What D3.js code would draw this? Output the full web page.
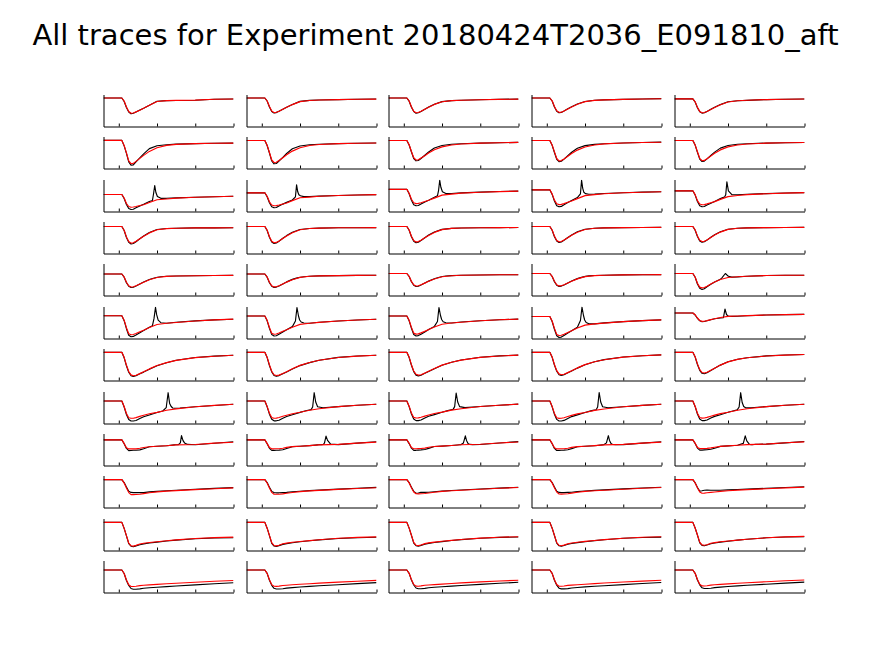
<!DOCTYPE html>
<html><head><meta charset="utf-8">
<script src="https://cdn.jsdelivr.net/npm/d3@7"></script>
<style>body{margin:0;background:#fff}svg{display:block}</style>
</head><body><svg id="chart" width="875" height="656"></svg>
<script>
const title = "All traces for Experiment 20180424T2036_E091810_aft";
const xDomain = [-40, 300];
const xTicks = [0, 100, 200, 300];
const ySpan = 32;

// time grids (ms)
const T_FIT  = [-40, 8, 14, 20, 26, 32, 38, 45, 55, 65, 80, 100, 125, 150, 200, 250, 300];
const T_ROW3 = [-40, 8, 14, 20, 26, 32, 38, 45, 55, 65, 80, 88, 91, 94, 97, 101, 110, 125, 150, 200, 250, 300];
const T_ROW5 = [-40, 8, 14, 20, 26, 32, 38, 45, 55, 65, 80, 84, 93, 101, 110, 125, 150, 200, 250, 300];
const T_ROW6 = [-40, 8, 14, 20, 26, 32, 38, 45, 55, 65, 80, 88, 92, 96, 99, 103, 110, 125, 150, 200, 250, 300];
const T_ROW8 = [-40, 8, 14, 20, 26, 32, 38, 45, 55, 65, 80, 100, 115, 124, 129, 133, 137, 141, 146, 160, 200, 250, 300];
const T_ROW9 = [-40, 8, 14, 20, 26, 32, 38, 45, 55, 65, 80, 100, 125, 140, 145, 149, 156, 161, 164, 168, 172, 180, 200, 250, 300];
const traceTimes = [T_FIT, T_FIT, T_ROW3, T_FIT, T_ROW5, T_ROW6, T_FIT, T_ROW8, T_ROW9, T_FIT, T_FIT, T_FIT];

// upper y-limit of each panel (baseline = 0)
const yUpper = [
  [3.5, 3.5, 3.5, 3.5, 4.3],
  [3.9, 4, 4, 4, 4],
  [15, 13.3, 9.8, 10.3, 11.3],
  [5, 5, 5, 5, 5],
  [10.5, 10.5, 10, 10, 10],
  [9.2, 9.5, 9.5, 10, 6.5],
  [3.8, 3.8, 3.8, 3.8, 3.8],
  [9.5, 9.5, 9.5, 9.5, 9.5],
  [6.4, 6.4, 6.4, 6.4, 6.4],
  [4.1, 4.1, 4.1, 4.1, 4.1],
  [3.9, 3.9, 3.9, 3.9, 3.9],
  [9.5, 9.5, 9.5, 9.5, 9.5]
];

// measured traces (black) and fits (red), one array per row, five columns each
const trace_r1 = [
  [0,0,-3.5,-9.5,-14,-15.8,-15.3,-13.9,-12,-10.2,-7.3,-3.2,-2.6,-2.5,-2.3,-1.2,-1],
  [0,0,-3,-9,-13.5,-15,-14.6,-13.2,-11.2,-9.2,-6.5,-3.4,-2.4,-2,-1.6,-1.2,-1],
  [0,0,-3.2,-9.2,-13.6,-15.2,-14.8,-13.4,-11.2,-9,-6.2,-3.6,-2.6,-2.2,-1.7,-1.3,-1.1],
  [0,0,-3,-9,-13.3,-14.8,-14.4,-13,-10.8,-8.8,-6,-3.5,-2.3,-1.9,-1.4,-1,-0.6],
  [0,0,-3.2,-9,-13,-14.3,-14,-12.6,-10.5,-8.5,-5.8,-3,-2,-1.6,-0.8,-0.4,-0.2]
];
const fit_r1 = [
  [0,0,-3,-9,-13.5,-15.3,-15,-13.9,-12.2,-10.3,-7.2,-3.5,-2.6,-2.4,-2.1,-1.3,-1],
  [0,0,-3,-8.5,-13,-14.6,-14.3,-13.2,-11.2,-9.3,-6.6,-3.6,-2.5,-2,-1.6,-1.3,-1.1],
  [0,0,-3,-8.7,-13.2,-14.8,-14.5,-13.3,-11.3,-9.2,-6.4,-3.7,-2.6,-2.2,-1.7,-1.4,-1.1],
  [0,0,-2.8,-8.5,-12.8,-14.4,-14.2,-13,-11,-9,-6.2,-3.6,-2.4,-1.9,-1.4,-1,-0.7],
  [0,0,-3,-8.6,-12.6,-14,-13.8,-12.6,-10.6,-8.6,-6,-3.2,-2,-1.5,-0.8,-0.4,-0.2]
];
const trace_r2 = [
  [0,0,-5.5,-13,-21.5,-24.8,-24.5,-21.5,-17.5,-13.5,-8.2,-5.3,-4.3,-3.7,-3.2,-2.9,-2.7],
  [0,0,-5,-12.5,-20.5,-23.3,-23,-20.5,-16.8,-13,-8.3,-5.5,-4.3,-3.7,-3.1,-2.8,-2.5],
  [0,0,-4.5,-11.5,-18,-20.3,-20,-18,-14.8,-11.5,-7.5,-5,-3.8,-3.2,-2.6,-2.2,-1.9],
  [0,0,-4.8,-12,-18.8,-21.2,-20.8,-18.6,-15.2,-11.8,-7.8,-5.1,-3.9,-3.2,-2.5,-2,-1.6],
  [0,0,-4.6,-11.8,-18.6,-21,-20.6,-18.4,-15,-11.6,-7.6,-5,-3.8,-3.2,-2.6,-2.3,-2]
];
const fit_r2 = [
  [0,0,-5,-12.5,-20.5,-23.3,-23,-21,-18,-15,-11,-7.3,-5,-4,-3.2,-2.9,-2.7],
  [0,0,-4.8,-12,-19.5,-22,-21.8,-20,-17.2,-14.3,-10.6,-7.2,-5,-4,-3.1,-2.8,-2.5],
  [0,0,-4.2,-11,-17.2,-19.5,-19.2,-17.6,-15.2,-12.6,-9.3,-6.4,-4.5,-3.5,-2.6,-2.2,-1.9],
  [0,0,-4.5,-11.4,-18,-20.4,-20.1,-18.4,-15.8,-13,-9.6,-6.5,-4.5,-3.4,-2.5,-2,-1.7],
  [0,0,-4.4,-11.2,-17.8,-20.2,-19.9,-18.2,-15.6,-12.8,-9.4,-6.4,-4.5,-3.5,-2.6,-2.3,-2]
];
const trace_r3 = [
  [0,0,-4,-10,-14,-15,-14.8,-13.3,-11.5,-9.8,-7,-6,1,9,2,-2,-3.8,-3.8,-3.4,-2.8,-2.2,-1.8],
  [0,0,-4,-10,-14,-15,-14.7,-13.2,-11.3,-9.6,-7.2,-4,8,1,-2,-3,-3.8,-3.7,-3.3,-2.7,-2.2,-1.8],
  [0,0,-4.5,-11,-15.5,-16.5,-16.2,-14.8,-12.8,-11,-8,-6.5,-1,9,2,-2.5,-4.2,-4.2,-3.6,-2.8,-2.2,-1.8],
  [0,0,-4.6,-11.3,-16,-17,-16.6,-15,-12.8,-10.8,-7.8,-4,9.5,1.5,-2.5,-3.8,-4.5,-4.3,-3.7,-2.9,-2.3,-1.9],
  [0,0,-4.3,-10.7,-15,-16,-15.7,-14.3,-12.4,-10.6,-7.8,-6.6,-6.2,-4,9,0,-3.8,-4,-3.5,-2.8,-2.2,-1.8]
];
const fit_r3 = [
  [0,0,-3.5,-9,-12,-12.7,-12.5,-12,-11,-10.2,-8,-5.2,-4.5,-3.6,-2.8,-2.2,-1.7],
  [0,0,-3.5,-9,-12.2,-13,-12.8,-12.2,-11.2,-10.2,-7.8,-5,-4.3,-3.5,-2.7,-2.2,-1.8],
  [0,0,-4,-10,-13.5,-14.3,-14.1,-13.4,-12.2,-11,-8.8,-5.8,-4.8,-3.8,-2.9,-2.3,-1.8],
  [0,0,-4.1,-10.3,-14,-14.8,-14.6,-13.8,-12.5,-11.2,-8.8,-5.8,-4.8,-3.9,-3,-2.4,-1.9],
  [0,0,-3.8,-9.8,-13.2,-14,-13.8,-13.1,-11.9,-10.8,-8.6,-5.8,-4.7,-3.8,-2.9,-2.3,-1.8]
];
const trace_r4 = [
  [0,0,-4,-11,-15.8,-17.5,-17,-15.2,-12.2,-9.5,-6,-3,-2,-1.7,-1.4,-1.3,-1.2],
  [0,0,-4,-10.8,-15.5,-17,-16.5,-14.7,-11.8,-9.1,-5.8,-3,-2,-1.6,-1.3,-1.2,-1.1],
  [0,0,-3.8,-10.2,-14.7,-16.2,-15.7,-14,-11.2,-8.6,-5.5,-2.9,-1.9,-1.5,-1.2,-1.1,-1],
  [0,0,-3.8,-10.2,-14.6,-16,-15.5,-13.8,-11,-8.4,-5.3,-2.8,-1.8,-1.4,-1.1,-1,-0.9],
  [0,0,-3.8,-10,-14.4,-15.8,-15.3,-13.6,-10.8,-8.2,-5.2,-2.7,-1.7,-1.4,-1.1,-1,-0.9]
];
const fit_r4 = [
  [0,0,-3.7,-10.4,-15,-16.6,-16.3,-14.8,-12.2,-9.7,-6.4,-3.3,-2.1,-1.7,-1.4,-1.3,-1.2],
  [0,0,-3.6,-10.2,-14.7,-16.2,-15.9,-14.4,-11.9,-9.4,-6.2,-3.2,-2,-1.6,-1.3,-1.2,-1.1],
  [0,0,-3.5,-9.7,-14,-15.4,-15.1,-13.7,-11.3,-8.9,-5.9,-3.1,-1.9,-1.5,-1.2,-1.1,-1],
  [0,0,-3.5,-9.6,-13.9,-15.3,-15,-13.6,-11.2,-8.8,-5.8,-3,-1.8,-1.4,-1.1,-1,-0.9],
  [0,0,-3.4,-9.4,-13.7,-15.1,-14.8,-13.4,-11,-8.6,-5.6,-2.9,-1.7,-1.4,-1.1,-1,-0.9]
];
const trace_r5 = [
  [0,0,-3.2,-8.8,-12.3,-13.5,-13.2,-12,-10,-8,-5.5,-5,-4,-3.3,-2.8,-2.3,-2,-1.7,-1.5,-1.4],
  [0,0,-3.2,-8.7,-12.2,-13.4,-13.1,-11.9,-9.9,-7.9,-5.4,-4.9,-3.9,-3.2,-2.7,-2.2,-1.9,-1.6,-1.4,-1.3],
  [0,0,-3,-8.3,-11.8,-13,-12.7,-11.5,-9.5,-7.6,-5.2,-4.7,-3.7,-3,-2.5,-2.1,-1.8,-1.5,-1.3,-1.2],
  [0,0,-3,-8.2,-11.7,-12.9,-12.6,-11.4,-9.4,-7.5,-5.1,-4.6,-3.6,-2.9,-2.4,-2,-1.7,-1.4,-1.2,-1.1],
  [0,0,-3.8,-10.5,-14.8,-16,-15.2,-13.3,-10.8,-8.6,-5.8,-4.3,0,-2.8,-3.6,-3.4,-2.7,-2,-1.8,-1.7]
];
const fit_r5 = [
  [0,0,-3,-8.3,-11.8,-13,-12.8,-11.8,-10,-8.2,-5.8,-3.5,-2.4,-2,-1.7,-1.5,-1.4],
  [0,0,-3,-8.2,-11.7,-12.9,-12.7,-11.7,-9.9,-8.1,-5.7,-3.4,-2.3,-1.9,-1.6,-1.4,-1.3],
  [0,0,-2.8,-7.9,-11.3,-12.5,-12.3,-11.3,-9.6,-7.8,-5.5,-3.2,-2.2,-1.8,-1.5,-1.3,-1.2],
  [0,0,-2.8,-7.8,-11.2,-12.4,-12.2,-11.2,-9.5,-7.7,-5.4,-3.1,-2.1,-1.7,-1.4,-1.2,-1.1],
  [0,0,-3.5,-9.8,-13.6,-14.4,-14,-12.8,-10.6,-8.6,-6,-4,-3.2,-2.7,-2,-1.8,-1.7]
];
const trace_r6 = [
  [0,0,-5,-13,-19.5,-21,-20.7,-19.3,-17,-14.8,-11.5,-10,-3,8.3,1,-4.5,-7,-7.5,-6.5,-5.2,-4.2,-3.5],
  [0,0,-4.8,-12.4,-18.6,-20,-19.7,-18.3,-16,-13.8,-10.6,-5,8.5,0,-4,-6,-7,-7.2,-6.2,-5,-4,-3.3],
  [0,0,-4.8,-12.3,-18.5,-20,-19.6,-18.2,-15.9,-13.6,-10.4,-5.5,8.5,0.5,-3.5,-5.8,-6.8,-7,-6,-4.8,-3.8,-3.1],
  [0,0,-5,-12.8,-19.3,-21,-20.6,-19,-16.6,-14.2,-10.8,-4,9.3,1,-3.5,-6,-7.2,-7.4,-6.4,-5.1,-4.1,-3.4],
  [0,0,-2,-5.3,-7.8,-8.7,-8.5,-7.8,-6.7,-5.8,-5,-4.7,4,-1.5,-2.7,-3.3,-3.4,-3.2,-2.7,-2,-1.6,-1.4]
];
const fit_r6 = [
  [0,0,-4.5,-12,-18,-19,-18.8,-17.8,-16,-14.5,-11.8,-8.8,-7.6,-6.8,-5.3,-4.2,-3.4],
  [0,0,-4.3,-11.5,-17.2,-18.2,-18,-17,-15.3,-13.8,-11.2,-8.4,-7.2,-6.4,-5,-4,-3.3],
  [0,0,-4.3,-11.4,-17.1,-18.1,-17.9,-16.9,-15.2,-13.6,-11,-8.2,-7,-6.2,-4.8,-3.8,-3.1],
  [0,0,-4.5,-11.9,-17.9,-19,-18.8,-17.7,-15.9,-14.2,-11.5,-8.6,-7.4,-6.6,-5.1,-4.1,-3.4],
  [0,0,-1.8,-5,-7.5,-8.4,-8.2,-7.6,-6.6,-5.8,-4.5,-3.4,-3,-2.6,-2,-1.6,-1.4]
];
const trace_r7 = [
  [0,0,-5.5,-13.5,-20,-23.5,-24.2,-23.5,-21.5,-19.8,-17,-13.5,-10.5,-8,-5.2,-3.8,-3],
  [0,0,-5.3,-13.2,-19.6,-23.2,-24,-23.3,-21.4,-19.6,-16.8,-13.3,-10.3,-7.9,-5.1,-3.7,-2.9],
  [0,0,-5.2,-13,-19.3,-22.8,-23.6,-22.9,-21,-19.2,-16.4,-13,-10,-7.7,-5,-3.6,-2.8],
  [0,0,-5,-12.8,-19,-22.4,-23.1,-22.4,-20.5,-18.6,-15.8,-12.4,-9.5,-7.3,-4.7,-3.4,-2.6],
  [0,0,-4.8,-12.2,-18,-21,-21.4,-20.4,-18.2,-16,-12.8,-9.5,-7,-5.4,-3.6,-2.7,-2.2]
];
const fit_r7 = [
  [0,0,-5,-12.8,-19.2,-22.6,-23.4,-23,-21.3,-19.5,-16.6,-13.2,-10.3,-8.1,-5.3,-3.9,-3],
  [0,0,-4.9,-12.6,-19,-22.4,-23.2,-22.8,-21.2,-19.4,-16.5,-13.1,-10.2,-8,-5.2,-3.8,-2.9],
  [0,0,-4.8,-12.4,-18.7,-22,-22.8,-22.4,-20.8,-19,-16.2,-12.8,-10,-7.8,-5.1,-3.7,-2.8],
  [0,0,-4.6,-12.2,-18.4,-21.6,-22.4,-22,-20.3,-18.5,-15.6,-12.3,-9.5,-7.4,-4.8,-3.5,-2.6],
  [0,0,-4.4,-11.6,-17.3,-20.2,-20.7,-20,-18,-15.9,-12.8,-9.6,-7.1,-5.5,-3.7,-2.8,-2.2]
];
const trace_r8 = [
  [0,0,-6,-13.5,-18.5,-20,-20,-19.5,-17.5,-15.8,-14,-11.5,-10,-6.7,8.3,-2.5,-5.5,-7,-7.3,-7,-5.8,-4.5,-3.3],
  [0,0,-5.8,-13.2,-18.2,-19.8,-19.8,-19.2,-17.2,-15.5,-13.8,-11.4,-9.8,-9,-8.6,-6,8.3,-1,-5.8,-6.8,-5.6,-4.3,-3.2],
  [0,0,-5.6,-13,-18,-19.6,-19.6,-19,-17,-15.3,-13.6,-11.2,-9.6,-8.8,-8.4,-5.6,8,-1,-5.6,-6.6,-5.5,-4.2,-3.1],
  [0,0,-5.8,-13.3,-18.4,-20,-20,-19.4,-17.4,-15.6,-13.9,-11.5,-9.9,-9.1,-8.7,-6,8.5,-1,-5.7,-6.8,-5.7,-4.4,-3.3],
  [0,0,-5.7,-13,-18,-19.6,-19.6,-19,-17,-15.4,-13.7,-11.3,-9.7,-8.9,-6,8.3,-1.5,-5.5,-6.8,-6.8,-5.6,-4.3,-3.2]
];
const fit_r8 = [
  [0,0,-5.5,-12.5,-16.8,-17.3,-17.2,-16.6,-15.4,-14.3,-12.8,-11.4,-9.3,-7.9,-5.7,-4.4,-3.3],
  [0,0,-5.4,-12.3,-16.6,-17.2,-17.1,-16.5,-15.3,-14.2,-12.7,-11.3,-9.2,-7.8,-5.6,-4.3,-3.2],
  [0,0,-5.2,-12.1,-16.4,-17,-16.9,-16.3,-15.1,-14,-12.5,-11.1,-9.1,-7.7,-5.5,-4.2,-3.1],
  [0,0,-5.4,-12.4,-16.8,-17.4,-17.3,-16.7,-15.5,-14.4,-12.9,-11.5,-9.4,-8,-5.7,-4.4,-3.3],
  [0,0,-5.3,-12.2,-16.5,-17.1,-17,-16.4,-15.2,-14.1,-12.6,-11.2,-9.2,-7.8,-5.6,-4.3,-3.2]
];
const trace_r9 = [
  [0,0,-3.8,-8.5,-10.7,-10.6,-10.4,-10.3,-10,-8.8,-6.8,-6.4,-5.8,-5.2,-5,-4.9,-4.7,-3,4.3,-0.7,-3,-4.5,-4.8,-3.3,-1.8],
  [0,0,-3.8,-8.4,-10.5,-10.5,-10.3,-10.2,-9.8,-8.6,-6.7,-6.3,-5.7,-5.2,-5,-4.9,-4.7,-4.6,-3,3.8,-0.5,-4.2,-4.7,-3.2,-1.8],
  [0,0,-3.7,-8.3,-10.4,-10.4,-10.2,-10,-9.6,-8.5,-6.6,-6.2,-5.6,-5.1,-4.9,-4.8,-3,4,-0.5,-3.5,-4.5,-4.7,-4.6,-3.1,-1.7],
  [0,0,-3.8,-8.5,-10.6,-10.6,-10.4,-10.2,-9.8,-8.7,-6.8,-6.4,-5.8,-5.2,-5,-4.9,-3,4.2,-0.5,-3.6,-4.6,-4.8,-4.7,-3.2,-1.8],
  [0,0,-3.6,-8.2,-10.2,-10.2,-10,-9.8,-9.4,-8.3,-6.5,-6,-5.4,-3.5,4,-1,-4.5,-4.8,-4.7,-4.6,-4.5,-4.4,-4.2,-3,-1.6]
];
const fit_r9 = [
  [0,0,-3.5,-7.8,-9,-9,-9,-9,-8.4,-7.6,-6.8,-6.4,-5.8,-5,-4.6,-3.2,-2.3],
  [0,0,-3.5,-7.7,-8.9,-8.9,-8.8,-8.8,-8.3,-7.5,-6.7,-6.3,-5.7,-5,-4.5,-3.2,-2.2],
  [0,0,-3.4,-7.6,-8.8,-8.8,-8.7,-8.6,-8.2,-7.4,-6.6,-6.2,-5.6,-4.9,-4.4,-3.1,-2.1],
  [0,0,-3.5,-7.8,-9,-9,-8.9,-8.8,-8.3,-7.5,-6.7,-6.3,-5.7,-5,-4.5,-3.2,-2.2],
  [0,0,-3.3,-7.5,-8.7,-8.7,-8.6,-8.5,-8,-7.3,-6.5,-6,-5.4,-4.7,-4.2,-2.9,-2]
];
const trace_r10 = [
  [0,0,-3,-7.5,-11.7,-12.8,-13,-13,-13,-13,-12.3,-11.8,-11.2,-10.7,-9.7,-8.8,-8],
  [0,0,-3,-7.6,-11.8,-13,-13.2,-13.2,-13,-12.8,-12.2,-11.6,-11,-10.5,-9.5,-8.6,-7.8],
  [0,0,-3,-7.6,-11.8,-13.6,-13.4,-12.6,-12.8,-12.6,-12.1,-11.5,-10.9,-10.4,-9.4,-8.5,-7.7],
  [0,0,-3,-7.5,-11.6,-12.8,-13,-13,-12.8,-12.6,-12,-11.4,-10.8,-10.3,-9.3,-8.4,-7.6],
  [0,0,-3.2,-8,-11.5,-11.2,-10.7,-10.5,-10.6,-10.7,-10.6,-10.3,-9.9,-9.5,-8.7,-7.9,-7.2]
];
const fit_r10 = [
  [0,0,-3.5,-8.5,-13,-15,-15,-14.9,-14.7,-14,-13.2,-12.3,-11.5,-11,-10,-9.1,-8.3],
  [0,0,-3.4,-8.4,-12.8,-14.6,-14.7,-14.6,-14.3,-13.7,-12.9,-12,-11.3,-10.8,-9.8,-8.9,-8.1],
  [0,0,-3.3,-8.2,-12.4,-14.2,-14.3,-14.2,-13.9,-13.4,-12.7,-11.8,-11.1,-10.6,-9.6,-8.7,-7.9],
  [0,0,-3.3,-8.2,-12.5,-14.4,-14.5,-14.4,-14.1,-13.5,-12.7,-11.8,-11.1,-10.6,-9.6,-8.7,-7.9],
  [0,0,-3.3,-8.2,-12.3,-13.6,-13.5,-13.2,-12.8,-12.4,-11.8,-11.1,-10.5,-10,-9.1,-8.3,-7.5]
];
const trace_r11 = [
  [0,0,-6,-13.5,-21.3,-23.8,-24.3,-23.5,-22.3,-21.5,-20.6,-19.7,-18.6,-17.7,-16.3,-15.6,-15.3],
  [0,0,-5.8,-13.2,-21,-23.6,-24,-23.2,-22,-21.2,-20.3,-19.4,-18.3,-17.5,-16.1,-15.3,-14.9],
  [0,0,-5.7,-13,-20.7,-23.3,-23.8,-23,-21.8,-21,-20.1,-19.2,-18.1,-17.2,-15.8,-15,-14.6],
  [0,0,-5.8,-13.1,-20.8,-23.4,-23.9,-23.1,-21.9,-21.1,-20.2,-19.3,-18.2,-17.3,-15.9,-15.1,-14.7],
  [0,0,-5.6,-12.8,-20.4,-23,-23.4,-22.6,-21.4,-20.6,-19.7,-18.8,-17.7,-16.8,-15.4,-14.6,-14.2]
];
const fit_r11 = [
  [0,0,-6,-13.3,-20.6,-23.4,-23.7,-23,-21.6,-20.9,-20.1,-19.3,-18.4,-17.5,-16.1,-15.2,-14.7],
  [0,0,-5.8,-13,-20.3,-23.1,-23.5,-22.8,-21.4,-20.7,-19.9,-19.1,-18.2,-17.3,-15.9,-15,-14.5],
  [0,0,-5.7,-12.8,-20,-22.8,-23.2,-22.6,-21.2,-20.5,-19.7,-18.9,-18,-17.1,-15.7,-14.8,-14.3],
  [0,0,-5.7,-12.9,-20.1,-22.9,-23.3,-22.7,-21.3,-20.6,-19.8,-19,-18.1,-17.2,-15.8,-14.9,-14.4],
  [0,0,-5.6,-12.6,-19.8,-22.5,-22.9,-22.3,-20.9,-20.2,-19.4,-18.6,-17.7,-16.8,-15.4,-14.5,-14]
];
const trace_r12 = [
  [0,0,-3.5,-10.5,-15.5,-18.5,-19.2,-19.2,-18.9,-18.3,-17.8,-17.2,-16.6,-16,-14.9,-13.8,-12.8],
  [0,0,-3.4,-10.3,-15.3,-18.3,-19,-19,-18.7,-18.1,-17.6,-17,-16.4,-15.8,-14.7,-13.6,-12.6],
  [0,0,-3.3,-10.1,-15,-18,-18.7,-18.7,-18.4,-17.8,-17.3,-16.7,-16.1,-15.5,-14.4,-13.3,-12.3],
  [0,0,-3.4,-10.2,-15.2,-18.2,-18.9,-18.9,-18.6,-18,-17.5,-16.9,-16.3,-15.7,-14.6,-13.5,-12.5],
  [0,0,-3.3,-10,-14.8,-17.8,-18.5,-18.5,-18.2,-17.6,-17.1,-16.5,-15.9,-15.3,-14.2,-13.1,-12.1]
];
const fit_r12 = [
  [0,0,-3.5,-10,-14.8,-16.5,-16.5,-16.2,-15.6,-15.3,-14.9,-14.4,-13.8,-13.2,-12.2,-11.3,-10.5],
  [0,0,-3.4,-9.8,-14.6,-16.3,-16.4,-16.1,-15.5,-15.2,-14.8,-14.3,-13.7,-13.1,-12.1,-11.2,-10.4],
  [0,0,-3.3,-9.6,-14.4,-16.1,-16.2,-15.9,-15.3,-15,-14.6,-14.1,-13.5,-12.9,-11.9,-11,-10.2],
  [0,0,-3.4,-9.7,-14.5,-16.2,-16.3,-16,-15.4,-15.1,-14.7,-14.2,-13.6,-13,-12,-11.1,-10.3],
  [0,0,-3.3,-9.5,-14.2,-15.9,-16,-15.7,-15.1,-14.8,-14.4,-13.9,-13.3,-12.7,-11.7,-10.8,-10]
];

const traces = [trace_r1, trace_r2, trace_r3, trace_r4, trace_r5, trace_r6, trace_r7, trace_r8, trace_r9, trace_r10, trace_r11, trace_r12];
const fits = [fit_r1, fit_r2, fit_r3, fit_r4, fit_r5, fit_r6, fit_r7, fit_r8, fit_r9, fit_r10, fit_r11, fit_r12];

// ---- layout ----
const W = 130, H = 32, gridLeft = 103, gridTop = 94, colStep = 142.65, rowStep = 42.36;
const svg = d3.select("#chart");
svg.append("rect").attr("width", 875).attr("height", 656).attr("fill", "#fff");
svg.append("text")
  .attr("x", 435.5).attr("y", 45)
  .attr("text-anchor", "middle")
  .attr("font-family", "DejaVu Sans, sans-serif")
  .attr("font-size", 29)
  .attr("fill", "#000")
  .text(title);

const x = d3.scaleLinear().domain(xDomain).range([0, W]);
const defs = svg.append("defs");
defs.append("clipPath").attr("id", "clip").append("rect")
  .attr("x", 0).attr("y", 0).attr("width", W).attr("height", H);

traces.forEach((rowTraces, r) => {
  rowTraces.forEach((vals, c) => {
    const gx = Math.round(gridLeft + c * colStep) + 0.5;
    const gy = Math.round(gridTop + r * rowStep) + 0.5;
    const g = svg.append("g").attr("transform", `translate(${gx},${gy})`);
    const hi = yUpper[r][c];
    const y = d3.scaleLinear().domain([hi - ySpan, hi]).range([H, 0]);
    const line = d3.line().defined(d => d[1] != null && !isNaN(d[1]))
      .x(d => x(d[0])).y(d => y(d[1]));
    const tt = traceTimes[r];
    const blk = tt.map((t, i) => [t, vals[i]]);
    const red = T_FIT.map((t, i) => [t, fits[r][c][i]]);
    const plot = g.append("g").attr("clip-path", "url(#clip)");
    plot.append("path").attr("d", line(blk)).attr("fill", "none")
      .attr("stroke", "#000").attr("stroke-width", 1.15).attr("stroke-linejoin", "round");
    plot.append("path").attr("d", line(red)).attr("fill", "none")
      .attr("stroke", "#ff0000").attr("stroke-width", 1.15).attr("stroke-linejoin", "round");
    const xa = g.append("g").attr("transform", `translate(0,${H})`)
      .call(d3.axisBottom(x).tickValues(xTicks).tickSize(-3).tickSizeOuter(0).tickFormat(""));
    xa.select(".domain").attr("stroke", "#000").attr("stroke-width", 1);
    xa.selectAll(".tick line").attr("stroke", "#000").attr("stroke-width", 1);
    const ya = g.append("g").call(d3.axisLeft(y).tickValues([]).tickSizeOuter(0));
    ya.select(".domain").attr("stroke", "#000").attr("stroke-width", 1);
  });
});
</script></body></html>
